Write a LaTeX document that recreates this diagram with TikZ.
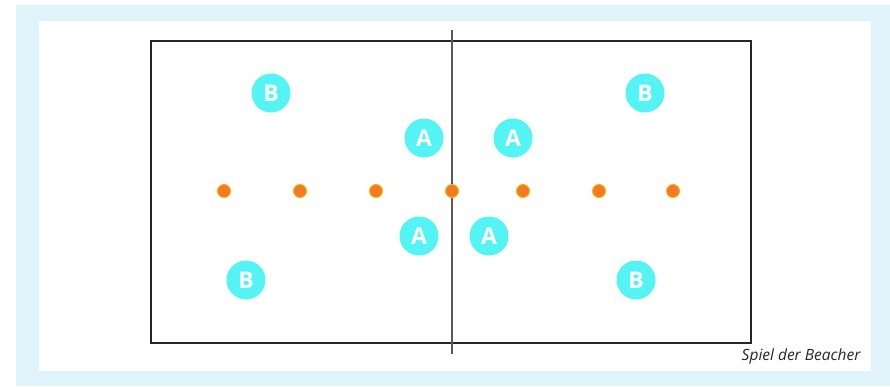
\documentclass[tikz,border=0pt]{standalone}
\usepackage{fontspec}
\setmainfont{Open Sans}
\definecolor{frameblue}{HTML}{DFF3FA}
\definecolor{playercyan}{HTML}{55F4F4}
\definecolor{balldot}{HTML}{F47A22}
\definecolor{ballrim}{HTML}{F2B418}
\tikzset{
  player/.style={circle, fill=playercyan, minimum size=39pt, inner sep=0pt,
    text=white, font=\fontsize{23}{23}\selectfont\bfseries},
  ball/.style={circle, fill=balldot, draw=ballrim, line width=1pt, minimum size=13pt, inner sep=0pt}
}
\begin{document}
\begin{tikzpicture}[x=1pt,y=-1pt]
            % frame
            \useasboundingbox (0,0) rectangle (890,386);
            \fill[frameblue] (16,5) rectangle (890,386);
            \fill[white] (39,21) rectangle (871,371);

            % court and net
            \draw[line width=1.3pt, black!85] (151,41) rectangle (751,343);
            \draw[line width=1.3pt, black!65] (452,30) -- (452,354);

            % balls on the line
            \foreach \x [count=\i] in {224,300,376,452,523,599,673} {
              \node[ball] (ball\i) at (\x,191) {};
            }

            % players
            \node[player] (a1) at (424,138) {A};
            \node[player] (a2) at (513,138) {A};
            \node[player] (a3) at (419,236) {A};
            \node[player] (a4) at (489,236) {A};
            \node[player] (b1) at (271,93) {B};
            \node[player] (b2) at (645,93) {B};
            \node[player] (b3) at (246,280) {B};
            \node[player] (b4) at (636,280) {B};

            % caption
            \node[font=\fontsize{15.5}{15.5}\selectfont\itshape, black!85, anchor=east] (caption) at (864,356) {Spiel der Beacher};
\end{tikzpicture}
\end{document}
